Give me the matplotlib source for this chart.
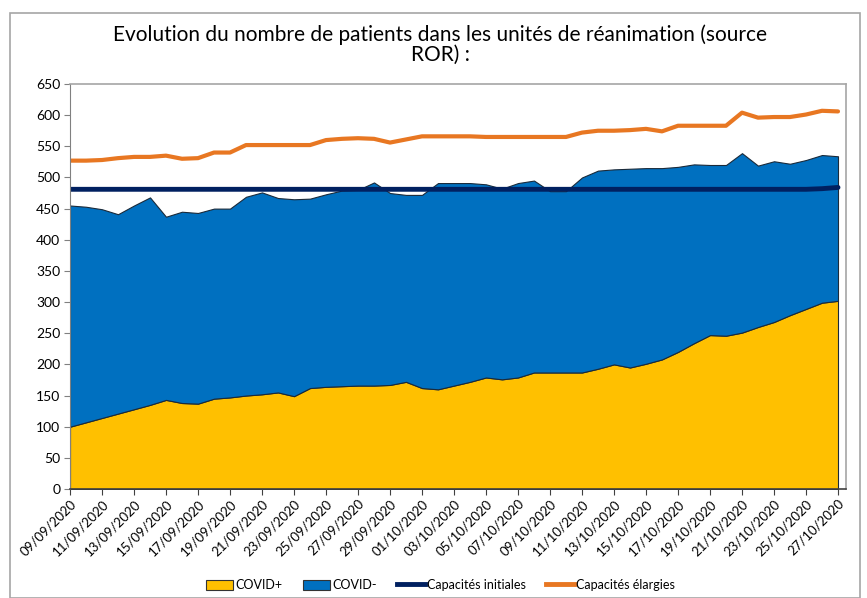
import matplotlib
matplotlib.use("Agg")
import matplotlib.pyplot as plt
from matplotlib.patches import Rectangle, Patch
from matplotlib.lines import Line2D
import numpy as np

start_labels = ["09/09/2020", "11/09/2020", "13/09/2020", "15/09/2020", "17/09/2020",
                "19/09/2020", "21/09/2020", "23/09/2020", "25/09/2020", "27/09/2020",
                "29/09/2020", "01/10/2020", "03/10/2020", "05/10/2020", "07/10/2020",
                "09/10/2020", "11/10/2020", "13/10/2020", "15/10/2020", "17/10/2020",
                "19/10/2020", "21/10/2020", "23/10/2020", "25/10/2020", "27/10/2020"]

covid_pos = [100, 107, 114, 121, 128, 135, 143, 138, 137, 145, 147, 150, 152, 155, 149,
             162, 164, 165, 166, 166, 167, 172, 162, 160, 166, 172, 179, 176, 179, 187,
             187, 187, 187, 193, 200, 195, 201, 208, 220, 234, 247, 246, 251, 260, 268,
             279, 289, 299, 302]

covid_neg = [355, 346, 335, 320, 327, 333, 294, 307, 306, 305, 303, 319, 324, 312, 316,
             304, 309, 314, 314, 326, 308, 300, 310, 331, 325, 319, 310, 306, 312, 308,
             291, 291, 313, 318, 313, 319, 314, 307, 297, 287, 273, 274, 288, 259, 258,
             243, 239, 237, 232]

cap_init = [481] * 47 + [482, 484]

cap_elarg = [527, 527, 528, 531, 533, 533, 535, 530, 531, 540, 540, 552, 552, 552, 552,
             552, 560, 562, 563, 562, 556, 561, 566, 566, 566, 566, 565, 565, 565, 565,
             565, 565, 572, 575, 575, 576, 578, 574, 583, 583, 583, 583, 604, 596, 597,
             597, 601, 607, 606]

title = "Evolution du nombre de patients dans les unités de réanimation (source\nROR) :"

C_POS = "#FFC000"
C_NEG = "#0070C0"
C_INIT = "#002060"
C_ELARG = "#E87722"

x = np.arange(len(covid_pos))
pos = np.array(covid_pos)
neg = np.array(covid_neg)

fig = plt.figure(figsize=(8.67, 5.98), dpi=100)
# outer frame
fig.patches.append(Rectangle((10/867, 0.0), 850/867, 1 - 13/598, transform=fig.transFigure,
                             fill=False, edgecolor="#A6A6A6", linewidth=1.2))

ax = fig.add_axes([70/867, 1 - 489/598, 776/867, 405/598])

ax.stackplot(x, pos, neg, colors=[C_POS, C_NEG], edgecolor="#1a2a3a", linewidth=0.8)
ax.plot(x, cap_init, color=C_INIT, linewidth=3.5, solid_capstyle="round")
ax.plot(x, cap_elarg, color=C_ELARG, linewidth=3.0, solid_capstyle="round")

ax.set_xlim(0, len(x) - 0.5)
ax.set_ylim(0, 650)
ax.set_yticks(np.arange(0, 651, 50))
ax.tick_params(axis="y", labelsize=10, length=4, color="#808080", pad=3)
for lab in ax.get_yticklabels():
    lab.set_family(["Lato", "DejaVu Sans"])

ax.set_xticks(x[::2])
ax.set_xticklabels(start_labels, rotation=45, ha="right", rotation_mode="anchor",
                   fontsize=9.5, family=["Lato", "DejaVu Sans"])
ax.tick_params(axis="x", length=4, color="#404040", pad=2)

for s in ["top", "right"]:
    ax.spines[s].set_color("#A6A6A6")
    ax.spines[s].set_linewidth(1.2)
ax.spines["left"].set_color("#808080")
ax.spines["bottom"].set_color("#404040")
ax.spines["bottom"].set_linewidth(1.2)

fig.text(0.508, 1 - 24/598, title, ha="center", va="top", fontsize=15,
         family=["Lato", "DejaVu Sans"], linespacing=1.0)

handles = [Patch(facecolor=C_POS, edgecolor="#333333", linewidth=0.8, label="COVID+"),
           Patch(facecolor=C_NEG, edgecolor="#333333", linewidth=0.8, label="COVID-"),
           Line2D([0], [0], color=C_INIT, linewidth=3.5, label="Capacités initiales"),
           Line2D([0], [0], color=C_ELARG, linewidth=3.5, label="Capacités élargies")]
fig.legend(handles=handles, loc="center", bbox_to_anchor=(0.508, 1 - 585/598), ncol=4,
           frameon=False, handlelength=2.2, handleheight=0.9,
           handletextpad=0.2, columnspacing=1.6,
           prop={"family": ["Lato", "DejaVu Sans"], "size": 9})

fig.savefig("out.png", dpi=100)
